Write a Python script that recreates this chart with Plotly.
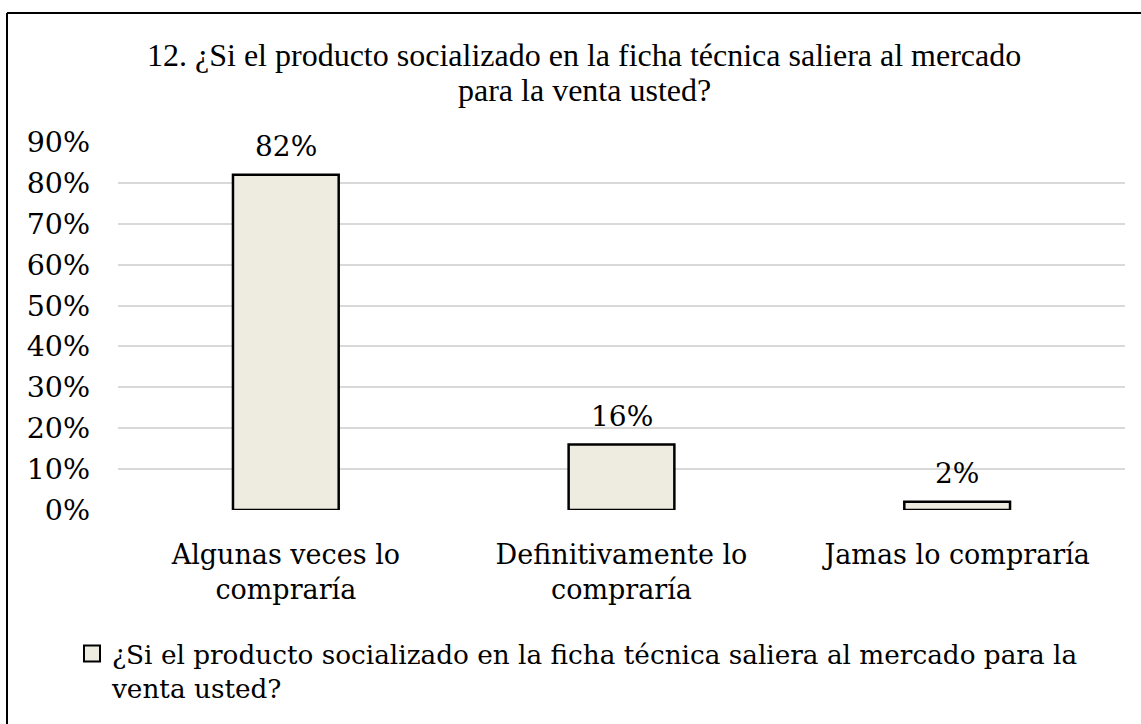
import plotly.graph_objects as go

categories = ["Algunas veces lo<br>compraría", "Definitivamente lo<br>compraría", "Jamas lo compraría"]
values = [0.82, 0.16, 0.02]
value_labels = ["82%", "16%", "2%"]
series_name = "¿Si el producto socializado en la ficha técnica saliera al mercado para la<br>venta usted?"
title_lines = ["12. ¿Si el producto socializado en la ficha técnica saliera al mercado",
               "para la venta usted?"]

FONT = "DejaVu Serif"
TITLE_FONT = "Liberation Serif"

W, H = 1141, 724
L, R, T, B = 118, 16, 142, 211
PW, PH = W - L - R, H - T - B

def px(x):  # page pixel -> paper
    return (x - L) / PW

def py(y):
    return (H - B - y) / PH

fig = go.Figure()
fig.add_trace(go.Bar(
    x=categories,
    y=values,
    name=series_name,
    marker=dict(color="#eeece1", line=dict(color="#000000", width=2.5)),
    showlegend=False,
))
# legend entry for the series
fig.add_trace(go.Scatter(
    x=[None], y=[None], mode="markers", name=series_name,
    marker=dict(symbol="square", size=16, color="#eeece1",
                line=dict(color="#000000", width=2)),
    showlegend=True, hoverinfo="skip",
))

annotations = []
for c, v, t in zip(categories, values, value_labels):
    annotations.append(dict(
        x=c, y=v, xref="x", yref="y", text=t, showarrow=False,
        yanchor="bottom", yshift=10,
        font=dict(family=FONT, size=28, color="#000000"),
    ))
annotations.append(dict(
    x=px(584), y=py(66), xref="paper", yref="paper", text=title_lines[0],
    showarrow=False, xanchor="center", yanchor="bottom", yshift=-8,
    font=dict(family=TITLE_FONT, size=32, color="#000000"),
))
annotations.append(dict(
    x=px(584), y=py(102), xref="paper", yref="paper", text=title_lines[1],
    showarrow=False, xanchor="center", yanchor="bottom", yshift=-8,
    font=dict(family=TITLE_FONT, size=32, color="#000000"),
))

fig.update_layout(
    width=W, height=H,
    margin=dict(l=L, r=R, t=T, b=B),
    paper_bgcolor="white",
    plot_bgcolor="white",
    bargap=0.685,
    showlegend=True,
    annotations=annotations,
    legend=dict(
        orientation="h",
        x=px(72), xanchor="left",
        y=py(634), yanchor="top",
        valign="top",
        font=dict(family=FONT, size=26.3, color="#000000"),
        bgcolor="rgba(0,0,0,0)",
    ),
    xaxis=dict(
        tickfont=dict(family=FONT, size=27, color="#000000"),
        showgrid=False, showline=False, ticks="",
        ticklabelstandoff=26,
    ),
    yaxis=dict(
        range=[0, 0.9], dtick=0.1, tickformat=".0%",
        tickfont=dict(family=FONT, size=28.5, color="#000000"),
        showgrid=True, gridcolor="#d9d9d9", gridwidth=1.5,
        zeroline=False, showline=False, ticks="",
        ticklabelstandoff=27,
    ),
    shapes=[
        dict(type="line", xref="paper", yref="paper",
             x0=px(7), x1=px(7), y0=py(12), y1=py(760),
             line=dict(color="#000000", width=2)),
        dict(type="line", xref="paper", yref="paper",
             x0=px(7), x1=px(1180), y0=py(12), y1=py(12),
             line=dict(color="#000000", width=2)),
    ],
)

fig.write_html("out.html",
               config={"displayModeBar": False},
               post_script="document.body.style.margin='0px';")
